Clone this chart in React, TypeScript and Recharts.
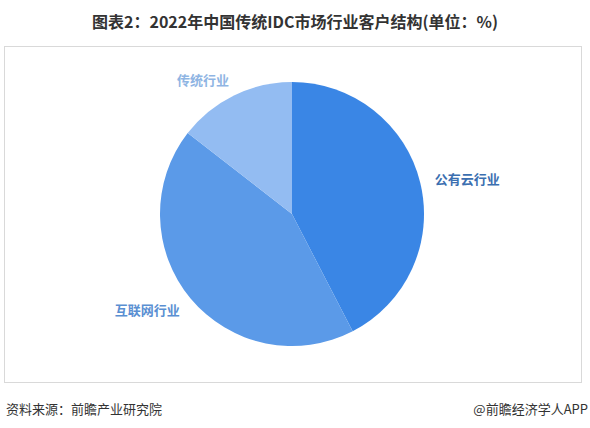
import React from 'react';
import { PieChart, Pie, Cell } from 'recharts';

// 2022年中国传统IDC市场行业客户结构 (%)
const categories = ['公有云行业', '互联网行业', '传统行业'];
const shares = [42.4, 43.1, 14.5];

const sliceColors = ['#3a86e5', '#5b9ae8', '#93bcf2'];
const labelColors = ['#3b6fb0', '#5a8fd2', '#8fb5e3'];

const data = categories.map((name, i) => ({ name, value: shares[i] }));

const RADIAN = Math.PI / 180;

const renderLabel = (props: any) => {
  const { cx, cy, midAngle, outerRadius, index, name } = props;
  const r = outerRadius + 18;
  const right = Math.cos(-midAngle * RADIAN) > 0;
  const x = cx + r * Math.cos(-midAngle * RADIAN) + (right ? -3 : 3);
  const y = cy + r * Math.sin(-midAngle * RADIAN);
  return (
    <text
      x={x}
      y={y}
      fill={labelColors[index]}
      textAnchor={right ? 'start' : 'end'}
      dominantBaseline="central"
      fontSize={13}
      fontWeight="bold"
      fontFamily="'Noto Sans CJK SC', sans-serif"
    >
      {name}
    </text>
  );
};

const App: React.FC = () => {
  return (
    <div
      style={{
        position: 'absolute',
        top: 0,
        left: 0,
        width: 590,
        height: 428,
        background: '#fff',
        fontFamily: "'Noto Sans CJK SC', sans-serif",
      }}
    >
      <div
        style={{
          position: 'absolute',
          top: 9,
          left: 0,
          width: 590,
          textAlign: 'center',
          fontSize: 16,
          fontWeight: 'bold',
          color: '#333',
        }}
      >
        图表2：2022年中国传统IDC市场行业客户结构(单位：%)
      </div>
      <div
        style={{
          position: 'absolute',
          top: 46,
          left: 4,
          width: 576,
          height: 335,
          border: '1px solid #d9d9d9',
        }}
      />
      <div style={{ position: 'absolute', top: 0, left: 0 }}>
        <PieChart width={590} height={428} margin={{ top: 0, right: 0, bottom: 0, left: 0 }}>
          <Pie
            data={data}
            dataKey="value"
            nameKey="name"
            cx={292}
            cy={214}
            outerRadius={132}
            startAngle={90}
            endAngle={-270}
            stroke="none"
            label={renderLabel}
            labelLine={false}
            isAnimationActive={false}
          >
            {data.map((entry, i) => (
              <Cell key={`cell-${i}`} fill={sliceColors[i]} />
            ))}
          </Pie>
        </PieChart>
      </div>
      <div
        style={{
          position: 'absolute',
          top: 399,
          left: 6,
          fontSize: 13,
          color: '#333',
        }}
      >
        资料来源：前瞻产业研究院
      </div>
      <div
        style={{
          position: 'absolute',
          top: 399,
          right: 2,
          fontSize: 13,
          color: '#333',
        }}
      >
        @前瞻经济学人APP
      </div>
    </div>
  );
};

export default App;
